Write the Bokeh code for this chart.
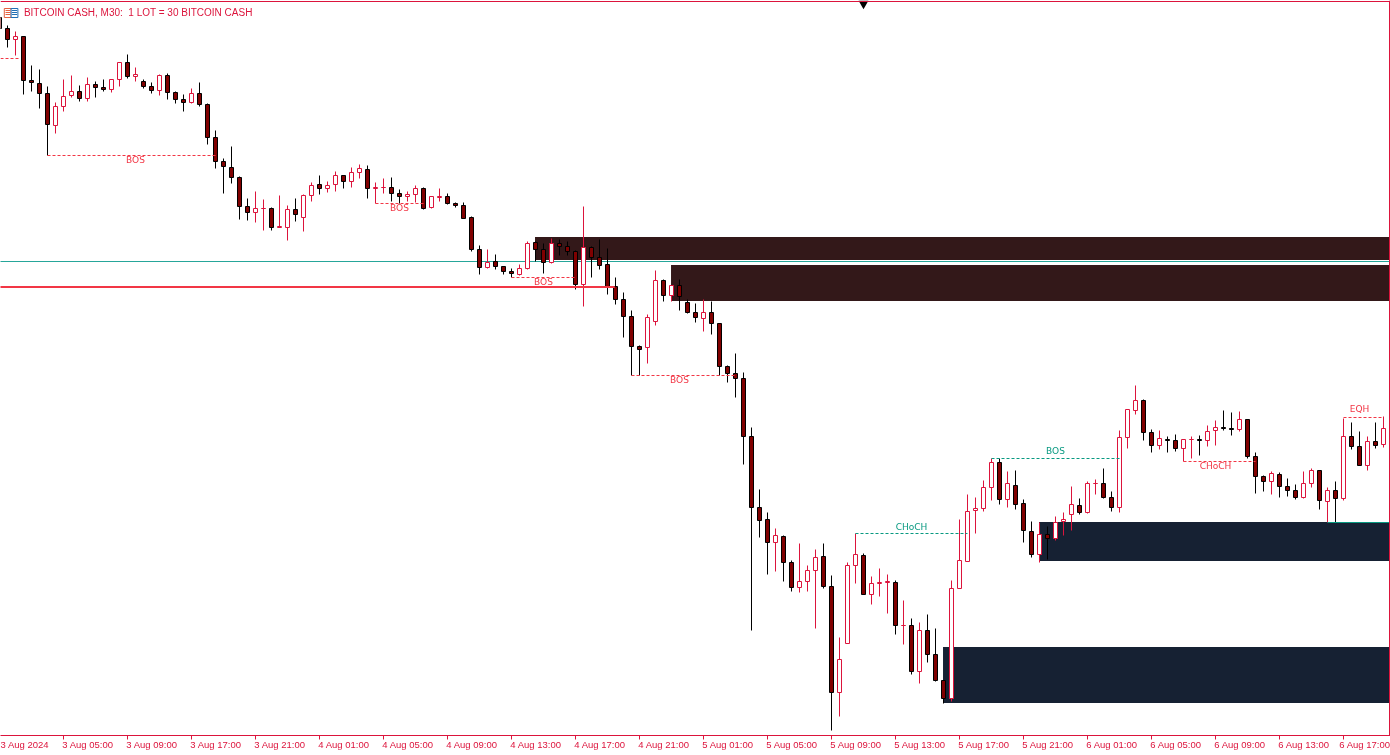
from bokeh.plotting import figure
from bokeh.models import Range1d, LinearAxis, FixedTicker, Span
from bokeh.core.properties import value
from bokeh.embed import file_html
from bokeh.resources import INLINE

CRIMSON = "#DC143C"
MAROON = "#800000"
SIGNAL_RED = "#F23645"
SIGNAL_GREEN = "#089981"
REFERENCE_LINE = "#26A69A"
SUPPLY = "#331819"
DEMAND = "#162133"
FONT = "Liberation Sans"

# Levels; the scale is inverted, as no price axis is shown.
first_bar = -1
kinds = ("ssbssssbbb" "sbssbbsbss" "bsssbsssss" "ssbbsbbsbb" "sbbsbbsbbs" "sbbsbbssss"
         "sbsssbbssb" "sssbssssss" "sbbsbsssbs" "sssssssbss" "bbbssbbbsb" "bbsbsbsssb"
         "bbbbbsbsss" "bsbbbsbbss" "bbbssbssbb" "sbbssbsssb" "sssbbsbsbs" "sbsb")
body_top = [17,28,36,36,80,83,93,106,96,91,91,84,84,87,79,62,62,74,81,86,
            75,75,92,99,93,93,104,137,161,167,177,206,208,208,208,226,209,209,195,185,
            184,185,175,175,172,168,169,187,187,187,193,194,188,188,196,196,196,203,205,217,
            249,262,261,266,271,268,243,242,249,243,243,246,251,247,247,257,264,286,299,316,
            346,317,280,280,285,285,302,312,312,312,323,366,373,378,436,507,519,535,536,562,
            581,570,557,556,586,659,565,554,555,583,582,581,582,625,625,630,630,654,680,588,
            560,511,508,487,462,462,483,485,503,531,534,534,522,519,504,505,483,483,483,497,
            437,409,400,400,432,438,439,440,439,439,439,431,427,427,428,419,419,456,476,473,
            474,486,490,483,470,470,490,490,436,436,446,441,441,428]
body_bottom = [28,39,39,80,82,93,124,125,106,95,98,98,87,89,89,79,76,76,86,90,
               90,92,99,102,102,104,137,161,166,177,206,212,212,208,227,227,227,214,217,195,
               188,188,184,181,181,172,188,188,187,193,196,196,194,208,207,197,203,205,218,249,
               267,267,266,271,273,274,268,249,262,262,246,251,284,284,257,265,286,299,316,346,
               349,347,321,295,295,296,312,317,318,323,366,373,378,436,507,520,542,542,562,587,
               587,581,570,586,692,692,643,565,594,594,583,582,625,625,671,671,654,680,698,698,
               588,561,510,508,487,499,499,504,530,554,554,538,538,521,514,512,512,483,497,507,
               507,437,410,432,445,445,440,448,448,439,440,440,430,428,429,429,456,476,481,481,
               486,490,497,497,483,500,501,498,498,446,465,465,445,444]
wick_high = [16,25,31,36,65,69,86,102,79,75,85,77,81,79,79,62,54,67,79,82,
             74,73,91,94,88,82,103,130,158,146,176,198,191,199,207,195,205,198,194,182,
             175,181,171,175,167,164,165,182,178,177,189,191,185,187,196,188,193,202,202,216,
             245,249,254,266,268,264,241,241,243,238,239,241,250,206,246,239,248,277,292,310,
             345,314,270,279,285,279,299,303,299,301,323,365,353,372,427,489,512,528,535,560,
             543,565,549,543,575,637,562,533,553,576,568,574,580,600,618,622,614,628,680,580,
             519,494,497,480,458,458,471,470,499,521,522,526,516,512,486,498,481,479,468,491,
             430,409,385,399,429,430,436,434,439,436,435,425,420,410,412,411,419,452,475,471,
             472,478,484,471,468,470,487,481,418,422,431,436,422,416]
wick_low = [29,47,55,94,91,108,155,133,111,97,101,101,97,91,92,86,78,81,88,93,
            95,99,103,111,103,106,144,168,193,183,219,220,222,230,230,227,240,221,231,201,
            194,192,191,188,187,178,198,203,193,201,203,201,202,209,208,201,204,207,218,251,
            274,268,269,274,277,275,269,261,273,263,255,255,289,306,277,269,294,304,337,375,
            375,363,325,301,301,310,313,322,331,334,375,382,397,464,630,537,574,571,581,591,
            592,591,628,588,730,716,643,583,594,604,596,613,634,644,674,683,662,681,703,701,
            588,561,533,511,500,504,507,509,542,557,562,559,540,535,530,514,513,494,498,511,
            512,448,414,440,452,449,452,451,461,458,455,446,445,430,435,431,458,493,491,494,
            497,496,499,498,487,509,522,522,500,449,465,470,448,447]

tick_bars = [-1,7,15,23,31,39,47,55,63,71,79,87,95,103,111,119,127,135,143,151,159,167]
tick_labels = ["3 Aug 2024","3 Aug 05:00","3 Aug 09:00","3 Aug 17:00","3 Aug 21:00",
               "4 Aug 01:00","4 Aug 05:00","4 Aug 09:00","4 Aug 13:00","4 Aug 17:00","4 Aug 21:00",
               "5 Aug 01:00","5 Aug 05:00","5 Aug 09:00","5 Aug 13:00","5 Aug 17:00","5 Aug 21:00",
               "6 Aug 01:00","6 Aug 05:00","6 Aug 09:00","6 Aug 13:00","6 Aug 17:00"]

# order blocks: start bar, upper level, lower level
supply_blocks = [(65.94, 237, 260), (82.94, 265, 301)]
demand_blocks = [(116.94, 647, 703), (128.94, 522, 561)]
last_x = 173.0
reference_level = 261
stop_level = 287
stop_end_bar = 75.9

# structure breaks: from bar, to bar, level, text, text bar, text level, colour key
breaks = [
    (-1.5, 1.6, 58, "", 0, 0, "r"),
    (5, 26, 155, "BOS", 16, 159, "r"),
    (46, 52, 203, "BOS", 49, 207, "r"),
    (63, 71, 277, "BOS", 67, 281, "r"),
    (78, 91, 375, "BOS", 84, 379, "r"),
    (106, 120, 533, "CHoCH", 113, 526, "g"),
    (123, 139, 458, "BOS", 131, 450, "g"),
    (147, 156, 461, "CHoCH", 151, 465, "r"),
    (167, 172, 417, "EQH", 169, 408, "r"),
]
green_level = (165, 172.7, 522)

bars = [first_bar + i for i in range(len(body_top))]

p = figure(width=1390, height=755, output_backend="svg", toolbar_location=None,
           x_range=Range1d(-0.875, 172.875), y_range=Range1d(735, 0),
           x_axis_type=None, y_axis_type=None, min_border=0, min_border_bottom=20,
           outline_line_color=None, background_fill_color="white", border_fill_color="white")
p.grid.visible = False
p.styles = {"position": "fixed", "left": "0px", "top": "0px"}

# axis: ticks at the bar, labels centred just right of them
label_pos = [t + 3.05 for t in tick_bars]
ax = LinearAxis(ticker=FixedTicker(ticks=label_pos, minor_ticks=tick_bars))
ax.major_label_overrides = dict(zip(label_pos, tick_labels))
ax.axis_line_color = CRIMSON
ax.axis_line_width = 1
ax.major_tick_line_color = None
ax.major_tick_out = 0
ax.major_tick_in = 0
ax.minor_tick_line_color = CRIMSON
ax.minor_tick_out = 4
ax.minor_tick_in = 0
ax.major_label_standoff = -1
ax.major_label_text_color = CRIMSON
ax.major_label_text_font = FONT
ax.major_label_text_font_size = "9.5px"
p.add_layout(ax, "below")

# order blocks
for blocks, col in ((supply_blocks, SUPPLY), (demand_blocks, DEMAND)):
    p.quad(left=[b[0] for b in blocks], right=[last_x] * len(blocks),
           top=[b[1] - 0.5 for b in blocks], bottom=[b[2] - 0.5 for b in blocks],
           fill_color=col, line_color=None)

p.segment(x0=[-2], x1=[last_x], y0=[reference_level], y1=[reference_level],
          line_color=REFERENCE_LINE, line_width=1)

# candles
bull = [i for i, k in enumerate(kinds) if k == "b"]
bear = [i for i, k in enumerate(kinds) if k == "s"]
for idx, wick, fill, edge in ((bull, CRIMSON, "white", CRIMSON), (bear, "black", MAROON, "black")):
    xs = [bars[i] for i in idx]
    p.segment(x0=xs, x1=xs, y0=[wick_high[i] for i in idx], y1=[wick_low[i] for i in idx],
              line_color=wick, line_width=1)
    p.quad(left=[x - 0.25 for x in xs], right=[x + 0.25 for x in xs],
           top=[body_top[i] for i in idx], bottom=[body_bottom[i] for i in idx],
           fill_color=fill, line_color=edge, line_width=1)

# structure lines and labels
for x0, x1, lvl, txt, tx, ty, key in breaks:
    col = SIGNAL_RED if key == "r" else SIGNAL_GREEN
    p.segment(x0=[x0], x1=[x1], y0=[lvl], y1=[lvl], line_color=col, line_width=1, line_dash="3 2")
    if txt:
        p.text(x=[tx], y=[ty], text=[txt], text_color=col, text_font=value("DejaVu Sans"),
               text_font_size="9px", text_align="center", text_baseline="middle")

p.segment(x0=[green_level[0]], x1=[green_level[1]], y0=[green_level[2]], y1=[green_level[2]],
          line_color=SIGNAL_GREEN, line_width=1)
p.segment(x0=[-2], x1=[stop_end_bar], y0=[stop_level - 0.5], y1=[stop_level - 0.5],
          line_color=SIGNAL_RED, line_width=2)

# frame: top and right edges only
p.add_layout(Span(location=1, dimension="width", line_color=CRIMSON, line_width=1))
p.add_layout(Span(location=172.75, dimension="height", line_color=CRIMSON, line_width=1))

# top shift marker
p.scatter(x=[107], y=[3], marker="inverted_triangle", size=10, fill_color="black", line_color=None)

# header icon and caption
p.quad(left=[-0.4], right=[0.45], top=[8], bottom=[17], fill_color="white", line_color="#E5603F", line_width=1)
p.quad(left=[0.45], right=[1.3], top=[8], bottom=[17], fill_color="white", line_color="#1F6FB5", line_width=1)
p.segment(x0=[-0.25, -0.25, -0.25], x1=[0.35, 0.35, 0.35], y0=[10, 12, 14], y1=[10, 12, 14],
          line_color="#E5603F", line_width=1)
p.segment(x0=[0.55, 0.55, 0.55], x1=[1.2, 1.2, 1.2], y0=[10, 12, 14], y1=[10, 12, 14],
          line_color="#1F6FB5", line_width=1)
p.text(x=[2.05], y=[12], text=["BITCOIN CASH, M30:\u00a0 1 LOT = 30 BITCOIN CASH"], text_color=CRIMSON,
       text_font=value(FONT), text_font_size="10px", text_align="left", text_baseline="middle")

open("out.html", "w").write(file_html(p, INLINE))
